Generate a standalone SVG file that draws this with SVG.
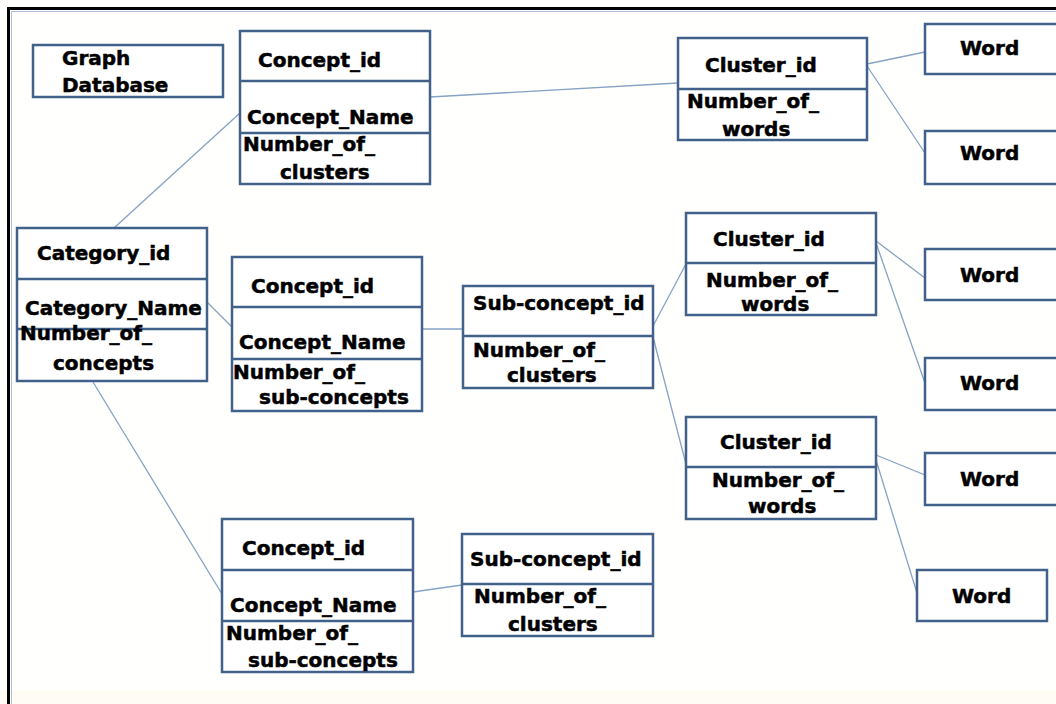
<svg xmlns="http://www.w3.org/2000/svg" width="1056" height="704" viewBox="0 0 1056 704">
<style>
.box{fill:#ffffff;stroke:#41618a;stroke-width:2.5}
.div{stroke:#41618a;stroke-width:2.5;fill:none}
.t{font-family:"DejaVu Sans","Liberation Sans",Arial,sans-serif;font-weight:bold;font-size:20px;fill:#000;stroke:#000;stroke-width:0.5}
.c{stroke:#86a2c4;stroke-width:1.3;fill:none}
</style>
<rect x="0" y="0" width="1056" height="704" fill="#fffffd"/>
<rect x="0" y="690" width="1056" height="14" fill="#fefcf4"/>
<path d="M11.5 704 V11.5 H1056" fill="none" stroke="#a9c1db" stroke-width="1"/>
<path d="M8.5 704 V8.5 H1056" fill="none" stroke="#000" stroke-width="3"/>

<g id="connectors">
<line class="c" x1="114" y1="228" x2="240" y2="113"/>
<line class="c" x1="430" y1="97" x2="678" y2="83"/>
<line class="c" x1="867" y1="64" x2="925" y2="52"/>
<line class="c" x1="867" y1="66" x2="925" y2="153"/>
<line class="c" x1="207" y1="302" x2="232" y2="327"/>
<line class="c" x1="422" y1="329" x2="463" y2="329"/>
<line class="c" x1="653" y1="326" x2="686" y2="264"/>
<line class="c" x1="653" y1="337" x2="686" y2="464"/>
<line class="c" x1="876" y1="241" x2="925" y2="278"/>
<line class="c" x1="876" y1="243" x2="925" y2="383"/>
<line class="c" x1="876" y1="455" x2="925" y2="475"/>
<line class="c" x1="876" y1="460" x2="917" y2="593"/>
<line class="c" x1="93" y1="382" x2="222" y2="594"/>
<line class="c" x1="413" y1="592" x2="462" y2="585"/>
</g>

<g id="graph-database">
<rect class="box" x="33" y="45" width="190" height="52"/>
<text class="t" x="62" y="65">Graph</text>
<text class="t" x="62" y="92">Database</text>
</g>

<g id="concept-a">
<rect class="box" x="240" y="31" width="190" height="153"/>
<line class="div" x1="240" y1="81" x2="430" y2="81"/>
<line class="div" x1="240" y1="133" x2="430" y2="133"/>
<text class="t" x="258" y="67">Concept_id</text>
<text class="t" x="247" y="124">Concept_Name</text>
<text class="t" x="243" y="151">Number_of_</text>
<text class="t" x="280" y="179">clusters</text>
</g>

<g id="cluster-a">
<rect class="box" x="678" y="38" width="189" height="102"/>
<line class="div" x1="678" y1="89" x2="867" y2="89"/>
<text class="t" x="705" y="72">Cluster_id</text>
<text class="t" x="687" y="108">Number_of_</text>
<text class="t" x="722" y="136">words</text>
</g>

<g id="word-a1">
<rect class="box" x="925" y="24" width="140" height="50"/>
<text class="t" x="960" y="55">Word</text>
</g>
<g id="word-a2">
<rect class="box" x="925" y="131" width="140" height="53"/>
<text class="t" x="960" y="160">Word</text>
</g>

<g id="category">
<rect class="box" x="17" y="228" width="190" height="153"/>
<line class="div" x1="17" y1="279" x2="207" y2="279"/>
<line class="div" x1="17" y1="329" x2="207" y2="329"/>
<text class="t" x="37" y="260">Category_id</text>
<text class="t" x="25" y="315">Category_Name</text>
<text class="t" x="20" y="340">Number_of_</text>
<text class="t" x="53" y="370">concepts</text>
</g>

<g id="concept-b">
<rect class="box" x="232" y="257" width="190" height="154"/>
<line class="div" x1="232" y1="307" x2="422" y2="307"/>
<line class="div" x1="232" y1="359" x2="422" y2="359"/>
<text class="t" x="251" y="293">Concept_id</text>
<text class="t" x="239" y="349">Concept_Name</text>
<text class="t" x="233" y="379">Number_of_</text>
<text class="t" x="259" y="404">sub-concepts</text>
</g>

<g id="subconcept-b">
<rect class="box" x="463" y="286" width="190" height="102"/>
<line class="div" x1="463" y1="336" x2="653" y2="336"/>
<text class="t" x="473" y="310">Sub-concept_id</text>
<text class="t" x="473" y="357">Number_of_</text>
<text class="t" x="507" y="382">clusters</text>
</g>

<g id="cluster-b">
<rect class="box" x="686" y="213" width="190" height="102"/>
<line class="div" x1="686" y1="263" x2="876" y2="263"/>
<text class="t" x="713" y="246">Cluster_id</text>
<text class="t" x="706" y="287">Number_of_</text>
<text class="t" x="741" y="311">words</text>
</g>

<g id="word-b1">
<rect class="box" x="925" y="249" width="140" height="51"/>
<text class="t" x="960" y="282">Word</text>
</g>
<g id="word-b2">
<rect class="box" x="925" y="358" width="140" height="52"/>
<text class="t" x="960" y="390">Word</text>
</g>

<g id="cluster-c">
<rect class="box" x="686" y="417" width="190" height="102"/>
<line class="div" x1="686" y1="467" x2="876" y2="467"/>
<text class="t" x="720" y="449">Cluster_id</text>
<text class="t" x="712" y="487">Number_of_</text>
<text class="t" x="748" y="513">words</text>
</g>

<g id="word-c1">
<rect class="box" x="925" y="453" width="140" height="52"/>
<text class="t" x="960" y="486">Word</text>
</g>
<g id="word-c2">
<rect class="box" x="917" y="570" width="130" height="51"/>
<text class="t" x="952" y="603">Word</text>
</g>

<g id="concept-c">
<rect class="box" x="222" y="519" width="191" height="153"/>
<line class="div" x1="222" y1="570" x2="413" y2="570"/>
<line class="div" x1="222" y1="621" x2="413" y2="621"/>
<text class="t" x="242" y="555">Concept_id</text>
<text class="t" x="230" y="612">Concept_Name</text>
<text class="t" x="226" y="640">Number_of_</text>
<text class="t" x="248" y="667">sub-concepts</text>
</g>

<g id="subconcept-c">
<rect class="box" x="462" y="534" width="191" height="102"/>
<line class="div" x1="462" y1="584" x2="653" y2="584"/>
<text class="t" x="470" y="566">Sub-concept_id</text>
<text class="t" x="474" y="603">Number_of_</text>
<text class="t" x="508" y="631">clusters</text>
</g>
</svg>
